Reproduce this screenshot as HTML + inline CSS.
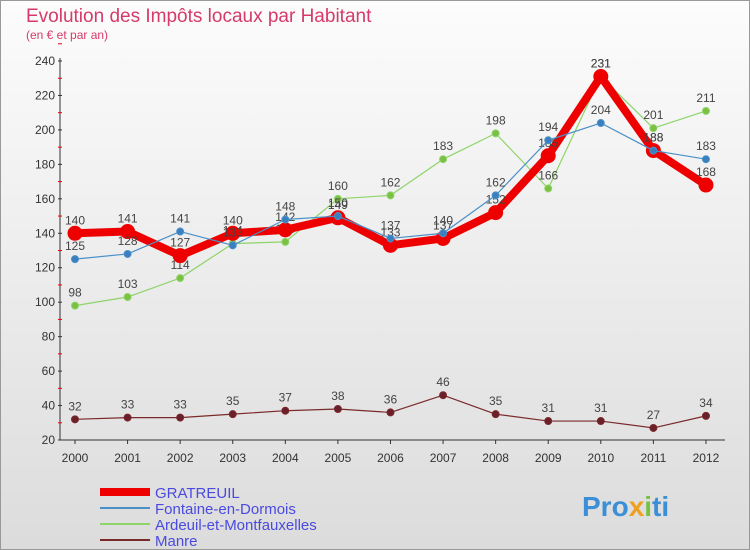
<!DOCTYPE html>
<html><head><meta charset="utf-8"><style>
body{margin:0;width:750px;height:550px;overflow:hidden;font-family:"Liberation Sans",sans-serif}
#wrap{position:relative;width:748px;height:548px;border:1px solid #999;background:linear-gradient(#fcfcfc,#dcdcdc)}
</style></head><body>
<div id="wrap">
<svg id="chart" width="750" height="550" style="position:absolute;left:-1px;top:-1px">
<text x="26" y="22" font-size="19" fill="#d63a6a">Evolution des Impôts locaux par Habitant</text>
<text x="26" y="39" font-size="12" fill="#d63a6a">(en € et par an)</text>
<g id="axes"></g><g id="series"></g>
<g id="legend"></g>
<text x="582" y="516" font-size="28" font-weight="bold" fill="#3a8fd6">Pro<tspan fill="#f0a020">x</tspan><tspan fill="#7ac143">i</tspan>ti</text>
</svg></div>
<script>
const years=[2000,2001,2002,2003,2004,2005,2006,2007,2008,2009,2010,2011,2012];
const yTicks=[20,40,60,80,100,120,140,160,180,200,220,240];
const gratreuil=[140,141,127,140,142,149,133,137,152,185,231,188,168];
const fontaine=[125,128,141,133,148,150,137,140,162,194,204,188,183];
const ardeuil=[98,103,114,134,135,160,162,183,198,166,231,201,211];
const manre=[32,33,33,35,37,38,36,46,35,31,31,27,34];
const NS="http://www.w3.org/2000/svg";
const x=i=>75+i*52.58, y=v=>440-(v-20)*(379/220);
function mk(t,a,p){const e=document.createElementNS(NS,t);for(const k in a)e.setAttribute(k,a[k]);p.appendChild(e);return e;}
const ax=document.getElementById('axes');
const yl=mk('line',{x1:60,y1:58,x2:60,y2:440,stroke:'#333'},ax);


const xl=mk('line',{x1:60,y1:440,x2:725,y2:440,stroke:'#333'},ax);


yTicks.forEach(v=>{const t=mk('text',{x:55,y:y(v)+4,'font-size':12,fill:'#333','text-anchor':'end'},ax);t.textContent=v;


mk('line',{x1:58,y1:y(v),x2:62,y2:y(v),stroke:'#333'},ax);
mk('line',{x1:58,y1:y(v+10),x2:62,y2:y(v+10),stroke:'#e00'},ax);});
years.forEach((yr,i)=>{const t=mk('text',{x:x(i),y:462,'font-size':12,fill:'#333','text-anchor':'middle'},ax);t.textContent=yr;


mk('line',{x1:x(i),y1:440,x2:x(i),y2:444,stroke:'#333'},ax);});
const sg=document.getElementById('series');
function series(d,col,w,r,name,dot){const g=mk('g',{},sg);


mk('polyline',{points:d.map((v,i)=>x(i)+','+y(v)).join(' '),fill:'none',stroke:col,'stroke-width':w,'stroke-linejoin':'round'},g);
d.forEach((v,i)=>{const c=mk('circle',{cx:x(i),cy:y(v),r:r,fill:dot,stroke:col,'stroke-width':1},g);


const t=mk('text',{x:x(i),y:y(v)-9,'font-size':12,fill:'#444','text-anchor':'middle'},g);t.textContent=v;

});}
series(manre,'#7a2a2a',1.2,3.5,'manre','#6b1f2a');
series(ardeuil,'#8ed468',1.2,3.5,'ardeuil','#7ac143');
series(gratreuil,'#ee0000',8,7,'gratreuil','#ee0000');
series(fontaine,'#4a90c8',1.2,3.5,'fontaine','#3a80c0');
const lg=document.getElementById('legend');
[['GRATREUIL','#ee0000',8],['Fontaine-en-Dormois','#4a90c8',2],['Ardeuil-et-Montfauxelles','#8ed468',2],['Manre','#7a2a2a',2]].forEach((e,i)=>{
const yy=492+i*16;const g=mk('g',{},lg);


mk('line',{x1:100,y1:yy,x2:150,y2:yy,stroke:e[1],'stroke-width':e[2]},g);
const t=mk('text',{x:155,y:yy+6,'font-size':15,fill:'#4a4ae0'},g);t.textContent=e[0];});
</script></body></html>
